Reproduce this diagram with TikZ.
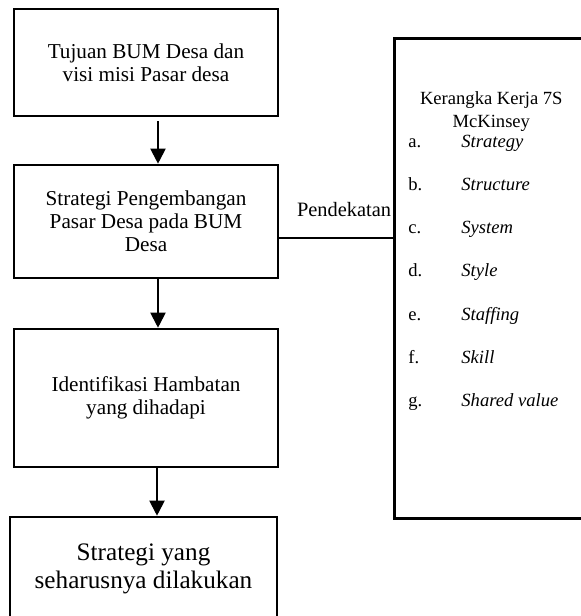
\documentclass[tikz,border=0pt]{standalone}
\usepackage{fontspec}
\setmainfont{Liberation Serif}
\usetikzlibrary{arrows.meta,positioning}

\begin{document}
\begin{tikzpicture}[
    node distance=23.2pt,
    kotak/.style={rectangle, draw, line width=1.3pt, minimum width=132pt, align=center, font=\fontsize{10.6}{11.4}\selectfont},
    panah/.style={-{Triangle[width=7.5pt,length=7.5pt]}, line width=1pt},
    garis/.style={line width=0.6pt}
]
    \useasboundingbox (0,0) rectangle (290.5pt,-308pt);
    \clip (0,0) rectangle (290.5pt,-308pt);

    \node [kotak, minimum height=53.5pt] (tujuan) at (73pt,-31.25pt) {Tujuan BUM Desa dan\\visi misi Pasar desa};
    \node [kotak, minimum height=56.5pt, below=of tujuan] (pengembangan) {Strategi Pengembangan\\Pasar Desa pada BUM\\Desa};
    \node [kotak, minimum height=69pt, below=24.2pt of pengembangan] (hambatan) {Identifikasi Hambatan\\yang dihadapi};
    \node [kotak, minimum width=133.5pt, minimum height=52pt, below=23.7pt of hambatan, xshift=-1.25pt, font=\fontsize{12.6}{14}\selectfont] (solusi) {Strategi yang\\seharusnya dilakukan};

    % kerangka 7S
    \node [draw, line width=1.3pt, minimum width=97pt, minimum height=240pt, anchor=north west] (mck) at (196.5pt,-18.5pt) {};
    \node [below=23.8pt of mck.north, align=center, font=\fontsize{9.3}{11.5}\selectfont] (judul) {Kerangka Kerja 7S\\McKinsey};
    \node [anchor=base west, inner sep=0pt, font=\fontsize{9.3}{11.5}\selectfont] (daftar) at ([xshift=7.5pt,yshift=-55pt]mck.north west) {\renewcommand{\arraystretch}{1.884}%
        \begin{tabular}[t]{@{}p{26.5pt}@{}l@{}}
            a. & \textit{Strategy}\\
            b. & \textit{Structure}\\
            c. & \textit{System}\\
            d. & \textit{Style}\\
            e. & \textit{Staffing}\\
            f. & \textit{Skill}\\
            g. & \textit{Shared value}
        \end{tabular}};

    \draw [panah, shorten <=2pt] ([xshift=6pt]tujuan.south) -- ([xshift=6pt]pengembangan.north);
    \draw [panah] ([xshift=6pt]pengembangan.south) -- ([xshift=6pt]hambatan.north);
    \draw [panah] ([xshift=5.5pt]hambatan.south) -- ([xshift=6.75pt]solusi.north);
    \coordinate (sambung) at ([yshift=-8.25pt]pengembangan.east);
    \draw [garis] (sambung) -- node[above=7pt, pos=0.57, font=\fontsize{10.2}{12}\selectfont] (pendekatan) {Pendekatan} (sambung -| mck.west);
\end{tikzpicture}
\end{document}
